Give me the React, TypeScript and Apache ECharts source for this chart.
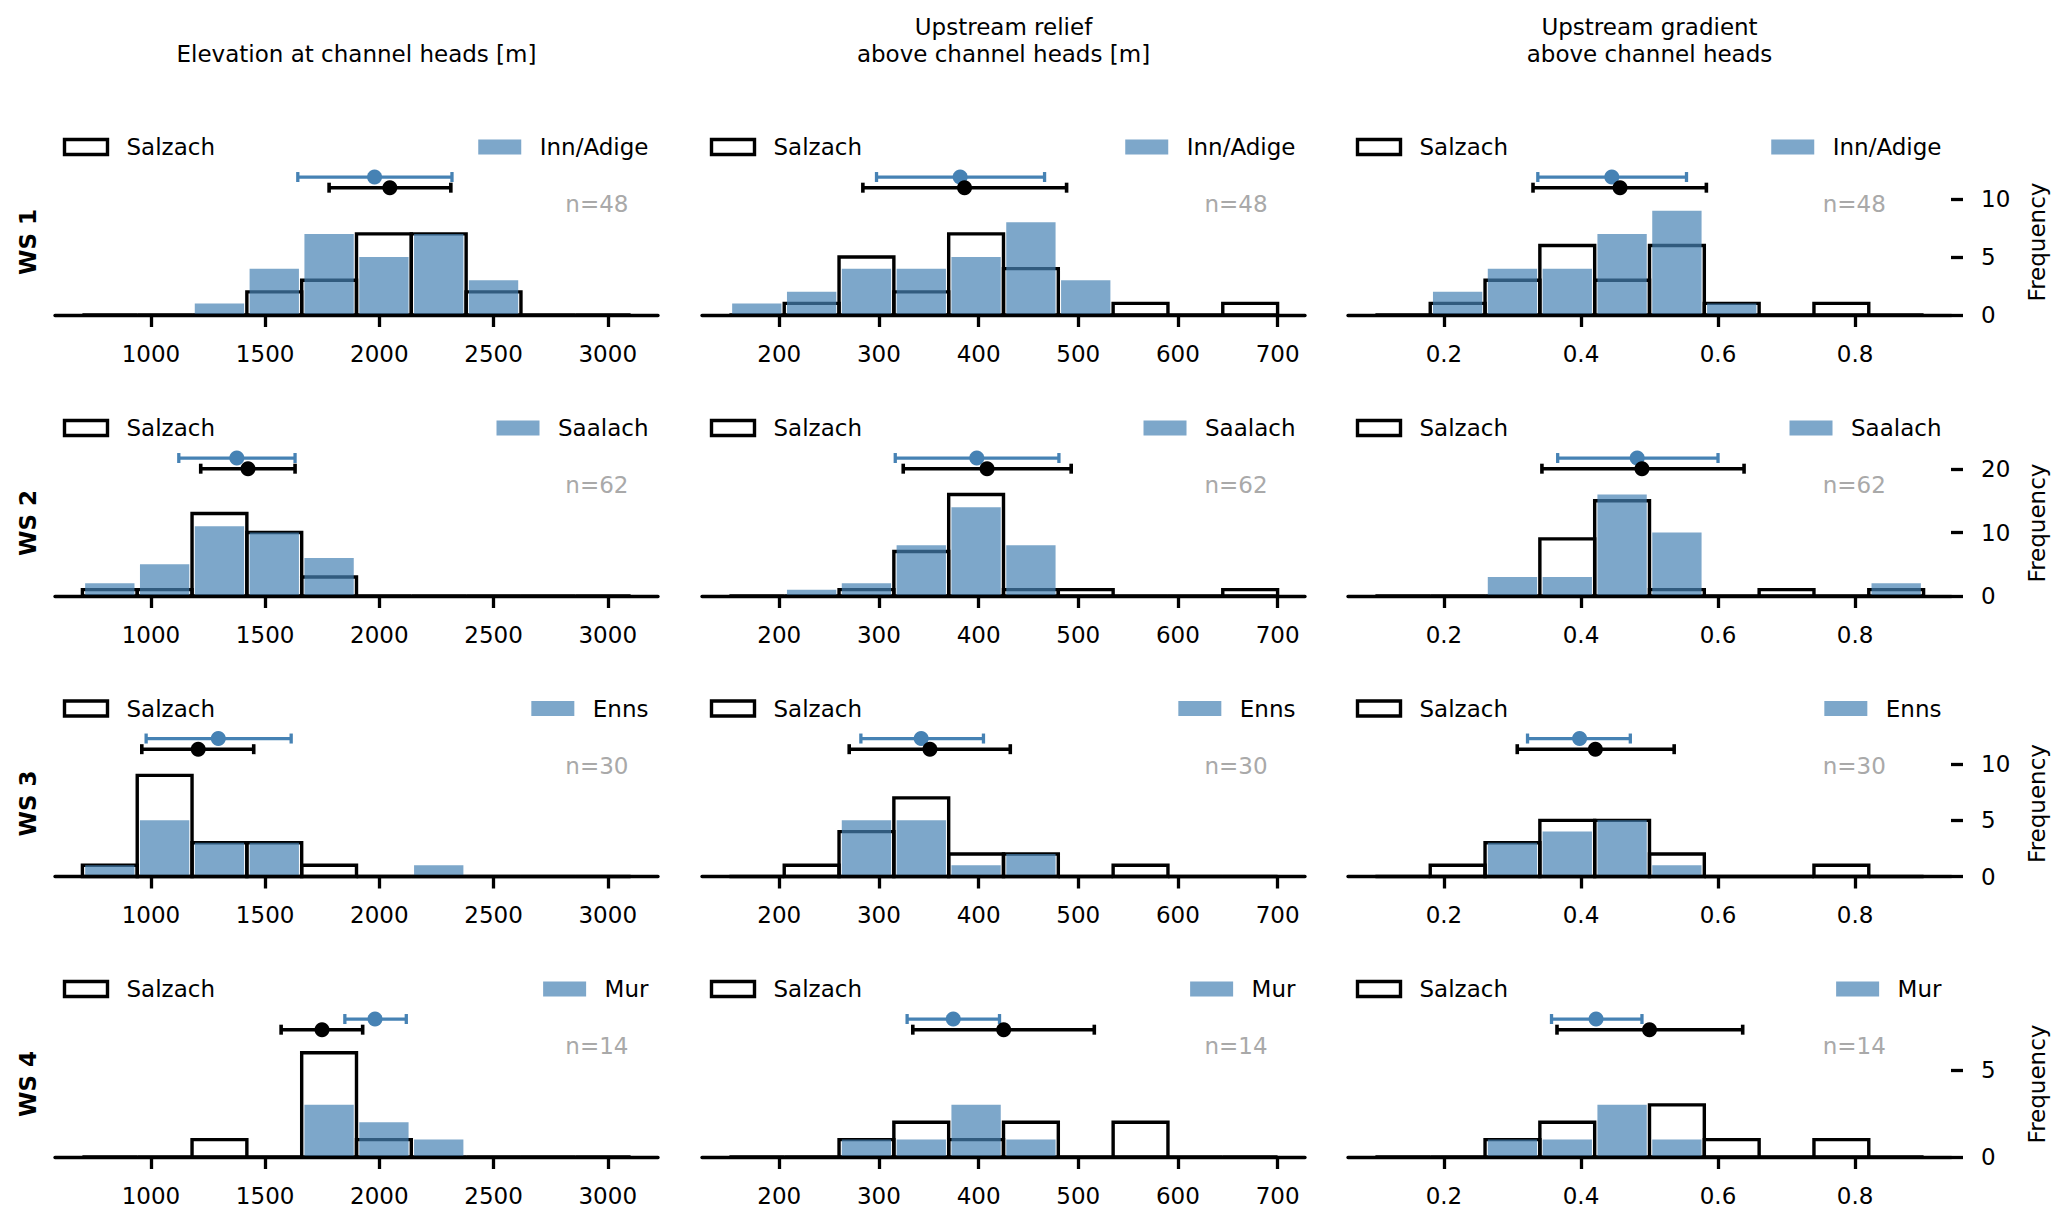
import React, { useEffect, useRef } from "react";
import * as echarts from "echarts";

const FONT = "DejaVu Sans";
const BLUE = "#4682b4";
const BLUE_FILL = "rgba(70,130,180,0.7)";

// ---------- labels ----------
const rowLabels = ["WS 1", "WS 2", "WS 3", "WS 4"];
const compareNames = ["Inn/Adige", "Saalach", "Enns", "Mur"];
const sampleSizes = [48, 62, 30, 14];
const columnTitles = [
  "Elevation at channel heads [m]",
  "Upstream relief\nabove channel heads [m]",
  "Upstream gradient\nabove channel heads",
];

// ---------- bins & ticks ----------
const binCount = 10;
const elevationBinStart = 700;
const elevationBinWidth = 240;
const reliefBinStart = 150;
const reliefBinWidth = 55;
const gradientBinStart = 0.1;
const gradientBinWidth = 0.08;

const elevationTicks = [1000, 1500, 2000, 2500, 3000];
const reliefTicks = [200, 300, 400, 500, 600, 700];
const gradientTicks = [0.2, 0.4, 0.6, 0.8];
const frequencyTicks = [[0, 5, 10], [0, 10, 20], [0, 5, 10], [0, 5]];
const rowFrequencyMax = [12.6, 23, 13, 8.4];

// ---------- histogram counts (rows WS1..WS4) ----------
const elevationSalzach = [
  [0, 0, 0, 2, 3, 7, 7, 2, 0, 0],
  [1, 1, 13, 10, 3, 0, 0, 0, 0, 0],
  [1, 9, 3, 3, 1, 0, 0, 0, 0, 0],
  [0, 0, 1, 0, 6, 1, 0, 0, 0, 0],
];
const elevationOther = [
  [0, 0, 1, 4, 7, 5, 7, 3, 0, 0],
  [2, 5, 11, 10, 6, 0, 0, 0, 0, 0],
  [1, 5, 3, 3, 0, 0, 1, 0, 0, 0],
  [0, 0, 0, 0, 3, 2, 1, 0, 0, 0],
];
const reliefSalzach = [
  [0, 1, 5, 2, 7, 4, 0, 1, 0, 1],
  [0, 0, 1, 7, 16, 1, 1, 0, 0, 1],
  [0, 1, 4, 7, 2, 2, 0, 1, 0, 0],
  [0, 0, 1, 2, 1, 2, 0, 2, 0, 0],
];
const reliefOther = [
  [1, 2, 4, 4, 5, 8, 3, 0, 0, 0],
  [0, 1, 2, 8, 14, 8, 0, 0, 0, 0],
  [0, 0, 5, 5, 1, 2, 0, 0, 0, 0],
  [0, 0, 1, 1, 3, 1, 0, 0, 0, 0],
];
const gradientSalzach = [
  [0, 1, 3, 6, 3, 6, 1, 0, 1, 0],
  [0, 0, 0, 9, 15, 1, 0, 1, 0, 1],
  [0, 1, 3, 5, 5, 2, 0, 0, 1, 0],
  [0, 0, 1, 2, 0, 3, 1, 0, 1, 0],
];
const gradientOther = [
  [0, 2, 4, 4, 7, 9, 1, 0, 0, 0],
  [0, 0, 3, 3, 16, 10, 0, 0, 0, 2],
  [0, 0, 3, 4, 5, 1, 0, 0, 0, 0],
  [0, 0, 1, 1, 3, 1, 0, 0, 0, 0],
];

// ---------- error bars [mean, low, high] ----------
const elevationSalzachErr = [
  [2046, 1780, 2313],
  [1425, 1218, 1631],
  [1207, 960, 1450],
  [1749, 1570, 1927],
];
const elevationOtherErr = [
  [1979, 1643, 2318],
  [1376, 1122, 1631],
  [1295, 979, 1614],
  [1981, 1849, 2118],
];
const reliefSalzachErr = [
  [385.9, 283.9, 488.3],
  [408.5, 324.4, 492.9],
  [351.2, 270.2, 431.8],
  [425.2, 334.0, 516.1],
];
const reliefOtherErr = [
  [381.5, 297.6, 466.2],
  [398.2, 316.4, 480.6],
  [342.4, 281.9, 404.9],
  [374.6, 328.3, 421.0],
];
const gradientSalzachErr = [
  [0.457, 0.33, 0.583],
  [0.489, 0.343, 0.638],
  [0.421, 0.307, 0.536],
  [0.5, 0.365, 0.636],
];
const gradientOtherErr = [
  [0.445, 0.337, 0.554],
  [0.482, 0.366, 0.6],
  [0.398, 0.322, 0.472],
  [0.422, 0.357, 0.489],
];

// ---------- layout ----------
const colLeft = [55, 702, 1348];
const colWidth = 603;
const rowTop = [169, 450, 730.5, 1011];
const rowHeight = 146;
const nTextFrac = [0.951, 0.938, 0.892];

const columns = [
  { start: elevationBinStart, width: elevationBinWidth, ticks: elevationTicks, salz: elevationSalzach, other: elevationOther, errS: elevationSalzachErr, errO: elevationOtherErr },
  { start: reliefBinStart, width: reliefBinWidth, ticks: reliefTicks, salz: reliefSalzach, other: reliefOther, errS: reliefSalzachErr, errO: reliefOtherErr },
  { start: gradientBinStart, width: gradientBinWidth, ticks: gradientTicks, salz: gradientSalzach, other: gradientOther, errS: gradientSalzachErr, errO: gradientOtherErr },
];

function measure(text: string): number {
  const c = document.createElement("canvas");
  const ctx = c.getContext("2d");
  if (!ctx) return text.length * 13;
  ctx.font = `23px "${FONT}"`;
  return ctx.measureText(text).width;
}

const plain = (v: number) => String(Math.round(v * 1000) / 1000);

function buildOption() {
  const grid: any[] = [];
  const xAxis: any[] = [];
  const yAxis: any[] = [];
  const series: any[] = [];
  const elements: any[] = [];

  for (let r = 0; r < 4; r++) {
    const baseline = rowTop[r] + rowHeight;
    const ymax = rowFrequencyMax[r];
    for (let c = 0; c < 3; c++) {
      const idx = r * 3 + c;
      const col = columns[c];
      const end = col.start + binCount * col.width;
      const span = end - col.start;
      grid.push({ left: colLeft[c], top: rowTop[r], width: colWidth, height: rowHeight, containLabel: false });
      xAxis.push({
        gridIndex: idx,
        type: "value",
        min: col.start - 0.05 * span,
        max: end + 0.05 * span,
        z: 10,
        axisLine: { show: true, onZero: false, lineStyle: { color: "#000", width: 3.3 } },
        axisTick: { show: true, length: 12, lineStyle: { color: "#000", width: 3.3 }, customValues: col.ticks },
        axisLabel: { show: true, customValues: col.ticks, formatter: plain, color: "#000", fontSize: 23, fontFamily: FONT, margin: 27 },
        splitLine: { show: false },
      });
      yAxis.push({
        gridIndex: idx,
        type: "value",
        min: 0,
        max: ymax,
        show: c === 2,
        position: "right",
        axisLine: { show: false },
        axisTick: { show: true, length: 12, lineStyle: { color: "#000", width: 3.3 }, customValues: frequencyTicks[r] },
        axisLabel: { show: true, customValues: frequencyTicks[r], formatter: plain, color: "#000", fontSize: 23, fontFamily: FONT, margin: 30 },
        splitLine: { show: false },
      });

      const binData = (counts: number[]) =>
        counts.map((v, i) => [col.start + i * col.width, col.start + (i + 1) * col.width, v]);

      series.push({
        type: "custom",
        name: "Salzach",
        xAxisIndex: idx,
        yAxisIndex: idx,
        z: 2,
        silent: true,
        data: binData(col.salz[r]),
        renderItem: (_p: any, api: any) => {
          const p0 = api.coord([api.value(0), 0]);
          const p1 = api.coord([api.value(1), api.value(2)]);
          return {
            type: "rect",
            shape: { x: p0[0], y: p1[1], width: p1[0] - p0[0], height: p0[1] - p1[1] },
            style: { fill: "none", stroke: "#000", lineWidth: 3.4 },
          };
        },
      });
      series.push({
        type: "custom",
        name: compareNames[r],
        xAxisIndex: idx,
        yAxisIndex: idx,
        z: 3,
        silent: true,
        data: binData(col.other[r]),
        renderItem: (_p: any, api: any) => {
          const v = api.value(2);
          if (!v) return null;
          const a = api.value(0);
          const b = api.value(1);
          const w = b - a;
          const p0 = api.coord([a + 0.05 * w, 0]);
          const p1 = api.coord([b - 0.05 * w, v]);
          return {
            type: "rect",
            shape: { x: p0[0], y: p1[1], width: p1[0] - p0[0], height: p0[1] - p1[1] },
            style: { fill: BLUE_FILL },
          };
        },
      });
      const errSeries = (d: number[], frac: number, color: string, lw: number, name: string) => ({
        type: "custom",
        name,
        xAxisIndex: idx,
        yAxisIndex: idx,
        z: 5,
        silent: true,
        data: [d],
        renderItem: (_p: any, api: any) => {
          const y = frac * ymax;
          const pm = api.coord([api.value(0), y]);
          const pl = api.coord([api.value(1), y]);
          const ph = api.coord([api.value(2), y]);
          const st = { stroke: color, lineWidth: lw };
          return {
            type: "group",
            children: [
              { type: "line", shape: { x1: pl[0], y1: pl[1], x2: ph[0], y2: ph[1] }, style: st },
              { type: "line", shape: { x1: pl[0], y1: pl[1] - 5, x2: pl[0], y2: pl[1] + 5 }, style: st },
              { type: "line", shape: { x1: ph[0], y1: ph[1] - 5, x2: ph[0], y2: ph[1] + 5 }, style: st },
              { type: "circle", shape: { cx: pm[0], cy: pm[1], r: 7.5 }, style: { fill: color } },
            ],
          };
        },
      });
      series.push(errSeries(col.errO[r], 0.945, BLUE, 3.3, compareNames[r] + " mean"));
      series.push(errSeries(col.errS[r], 0.872, "#000", 3.6, "Salzach mean"));

      // legend (left: Salzach, right: comparison catchment)
      const ly = baseline - 168;
      elements.push({
        type: "rect",
        shape: { x: colLeft[c] + 9.5, y: ly - 7.5, width: 43, height: 15 },
        style: { fill: "none", stroke: "#000", lineWidth: 3.4 },
        silent: true,
      });
      elements.push({
        type: "text",
        x: colLeft[c] + 71.5,
        y: ly,
        style: { text: "Salzach", fill: "#000", fontSize: 23, fontFamily: FONT, align: "left", verticalAlign: "middle" },
        silent: true,
      });
      const textRight = colLeft[c] + colWidth - 9.5;
      const tw = measure(compareNames[r]);
      elements.push({
        type: "rect",
        shape: { x: textRight - tw - 18.5 - 43, y: ly - 7.5, width: 43, height: 15 },
        style: { fill: BLUE_FILL },
        silent: true,
      });
      elements.push({
        type: "text",
        x: textRight,
        y: ly,
        style: { text: compareNames[r], fill: "#000", fontSize: 23, fontFamily: FONT, align: "right", verticalAlign: "middle" },
        silent: true,
      });
      // sample size
      elements.push({
        type: "text",
        x: colLeft[c] + nTextFrac[c] * colWidth,
        y: baseline - 111,
        style: { text: "n=" + sampleSizes[r], fill: "#a9a9a9", fontSize: 23, fontFamily: FONT, align: "right", verticalAlign: "middle" },
        silent: true,
      });
    }
    // row label
    elements.push({
      type: "text",
      x: 27.5,
      y: rowTop[r] + rowHeight / 2,
      rotation: Math.PI / 2,
      style: { text: rowLabels[r], fill: "#000", fontSize: 23, fontWeight: "bold", fontFamily: FONT, align: "center", verticalAlign: "middle" },
      silent: true,
    });
    // frequency label
    elements.push({
      type: "text",
      x: 2037,
      y: rowTop[r] + rowHeight / 2,
      rotation: Math.PI / 2,
      style: { text: "Frequency", fill: "#000", fontSize: 23, fontFamily: FONT, align: "center", verticalAlign: "middle" },
      silent: true,
    });
  }

  for (let c = 0; c < 3; c++) {
    elements.push({
      type: "text",
      x: colLeft[c] + colWidth / 2,
      y: 67,
      style: { text: columnTitles[c], fill: "#000", fontSize: 23, fontFamily: FONT, align: "center", verticalAlign: "bottom", lineHeight: 26.5 },
      silent: true,
    });
  }

  return {
    animation: false,
    backgroundColor: "#fff",
    textStyle: { fontFamily: FONT },
    grid,
    xAxis,
    yAxis,
    series,
    graphic: { elements },
  };
}

export default function App() {
  const ref = useRef<HTMLDivElement>(null);
  useEffect(() => {
    if (!ref.current) return;
    const chart = echarts.init(ref.current, null, { renderer: "svg" });
    chart.setOption(buildOption());
    return () => chart.dispose();
  }, []);
  return (
    <div
      ref={ref}
      style={{ position: "absolute", left: 0, top: 0, width: 2067, height: 1222, background: "#fff" }}
    />
  );
}
